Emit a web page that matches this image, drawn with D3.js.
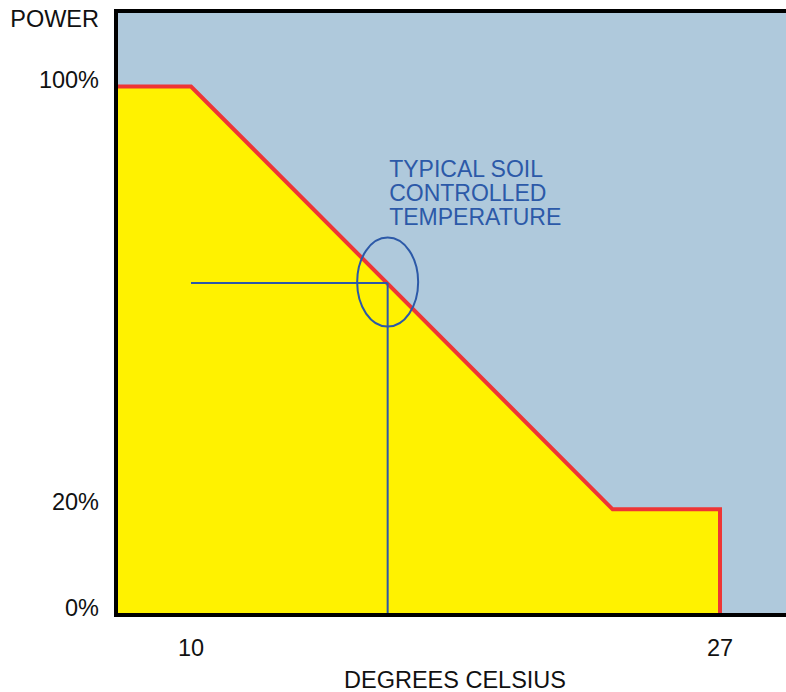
<!DOCTYPE html>
<html>
<head>
<meta charset="utf-8">
<script src="https://cdn.jsdelivr.net/npm/d3@7"></script>
<style>
  html, body { margin: 0; padding: 0; background: #fff; }
  svg { display: block; font-family: "Liberation Sans", Arial, sans-serif; }
</style>
</head>
<body>
<div id="chart"></div>
<script>
// heating power profile vs soil temperature
const temps = [7.6, 10, 23.55, 27, 27];
const power = [100, 100, 20, 20, 0];
const yTicks = [100, 20, 0];
const xTicks = [10, 27];
const soilTemp = 16.32;
const soilPower = 62.8;
const noteLines = ["TYPICAL SOIL", "CONTROLLED", "TEMPERATURE"];

const width = 786, height = 692;
const plotLeft = 116, plotTop = 11, plotBottom = 615;

const x = d3.scaleLinear().domain([10, 27]).range([191, 720]);
const y = d3.scaleLinear().domain([0, 100]).range([plotBottom, 86.5]);

const svg = d3.select("#chart").append("svg")
    .attr("width", width)
    .attr("height", height);

// plot background
svg.append("rect")
    .attr("x", plotLeft).attr("y", plotTop)
    .attr("width", width - plotLeft).attr("height", plotBottom - plotTop)
    .attr("fill", "#afc9dc");

const pts = temps.map((t, i) => [t, power[i]]);

// yellow area under the curve
const area = d3.area()
    .x(d => x(d[0]))
    .y0(y(0))
    .y1(d => y(d[1]));

svg.append("path")
    .datum(pts)
    .attr("d", area)
    .attr("fill", "#fff200");

// red profile line
const line = d3.line()
    .x(d => x(d[0]))
    .y(d => y(d[1]));

svg.append("path")
    .datum(pts)
    .attr("d", line)
    .attr("fill", "none")
    .attr("stroke", "#ee3535")
    .attr("stroke-width", 4)
    .attr("stroke-linejoin", "miter");

// soil temperature marker
const blue = "#2c59a8";
svg.append("line")
    .attr("x1", x(10)).attr("x2", x(soilTemp))
    .attr("y1", y(soilPower)).attr("y2", y(soilPower))
    .attr("stroke", blue).attr("stroke-width", 2);

svg.append("line")
    .attr("x1", x(soilTemp)).attr("x2", x(soilTemp))
    .attr("y1", y(soilPower)).attr("y2", y(0))
    .attr("stroke", blue).attr("stroke-width", 2);

svg.append("ellipse")
    .attr("cx", x(soilTemp))
    .attr("cy", y(soilPower) - 1)
    .attr("rx", 30.5).attr("ry", 44.5)
    .attr("fill", "none")
    .attr("stroke", blue).attr("stroke-width", 2);

svg.append("g")
    .selectAll("text")
    .data(noteLines)
    .join("text")
    .attr("x", x(soilTemp) + 1.5)
    .attr("y", (d, i) => 177 + i * 24)
    .attr("fill", blue)
    .attr("font-size", 23)
    .text(d => d);

// frame: left, top and bottom edges
const frame = svg.append("g")
    .attr("stroke", "#000")
    .attr("stroke-width", 4)
    .attr("stroke-linecap", "square");
frame.append("line").attr("x1", plotLeft).attr("x2", plotLeft).attr("y1", plotTop).attr("y2", plotBottom);
frame.append("line").attr("x1", plotLeft).attr("x2", width + 4).attr("y1", plotTop).attr("y2", plotTop);
frame.append("line").attr("x1", plotLeft).attr("x2", width + 4).attr("y1", plotBottom).attr("y2", plotBottom);

// y labels
svg.append("g")
    .selectAll("text")
    .data(yTicks)
    .join("text")
    .attr("x", 99)
    .attr("y", d => y(d) + 1)
    .attr("text-anchor", "end")
    .attr("font-size", 23.5)
    .attr("fill", "#111")
    .text(d => d + "%");

svg.append("text")
    .attr("x", 99).attr("y", 27)
    .attr("text-anchor", "end")
    .attr("font-size", 23.5)
    .attr("fill", "#111")
    .text("POWER");

// x labels
svg.append("g")
    .selectAll("text")
    .data(xTicks)
    .join("text")
    .attr("x", d => x(d))
    .attr("y", 656)
    .attr("text-anchor", "middle")
    .attr("font-size", 23.5)
    .attr("fill", "#111")
    .text(d => d);

svg.append("text")
    .attr("x", 455).attr("y", 688)
    .attr("text-anchor", "middle")
    .attr("font-size", 23.5)
    .attr("fill", "#111")
    .text("DEGREES CELSIUS");
</script>
</body>
</html>
